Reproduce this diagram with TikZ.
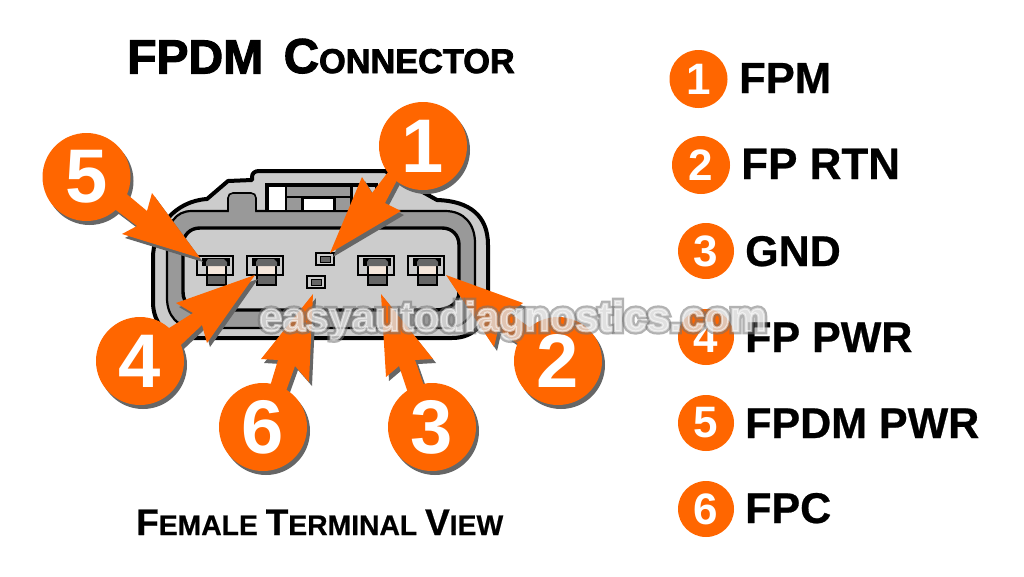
\documentclass[tikz,border=0pt]{standalone}
\usepackage{fontspec}
\setmainfont{Liberation Sans}[BoldFont={Liberation Sans Bold}]
\newfontfamily\heavy[FakeBold=2.2]{Liberation Sans Bold}
\newfontfamily\semi[FakeBold=0.6]{Liberation Sans Bold}
\newfontfamily\plainb{Liberation Sans Bold}
\definecolor{org}{HTML}{FF6600}
\definecolor{shad}{HTML}{666666}
\definecolor{lgray}{HTML}{CCCCCC}
\definecolor{mgray}{HTML}{999999}
\definecolor{peach}{HTML}{F5E6DA}
\newcommand{\fsz}[1]{\fontsize{#1}{#1}\selectfont}
\newcommand{\terminal}[2]{%
  \begin{scope}[shift={(#1,#2)}]
    \filldraw[fill=shad,draw=black,line width=1.6pt] (10,19) rectangle (29,29);
    \fill[peach] (10,10) rectangle (29,19);
    \draw[black,line width=1.6pt] (10,10) -- (10,19) (29,10) -- (29,19);
    \fill[black] (5,2) rectangle (33,10);
    \fill[shad] (9,6) -- (11,3) -- (27,3) -- (30,6) -- (30,10) -- (9,10) -- cycle;
    \draw[black,line width=1.6pt] (0,0) rectangle (36,19);
  \end{scope}}
\newcommand{\pinhole}[2]{%
  \begin{scope}[shift={(#1,#2)}]
    \filldraw[fill=lgray,draw=black,line width=1.8pt] (0,0) rectangle (18,12);
    \filldraw[fill=shad,draw=black,line width=.8pt] (4,3) rectangle (14,9);
  \end{scope}}
\newcommand{\callout}[5]{% name, cx, cy, digit, polygon
  \fill[shad,shift={(3,4)}] (#2,#3) circle (44) #5;
  \fill[org] (#2,#3) circle (44);
  \fill[org] #5;
  \node[bigdigit] (#1) at (#2,#3) {#4};}
\tikzset{
  bigdigit/.style={text=white,inner sep=0pt,font=\plainb\fsz{76}},
  legendnum/.style={circle,fill=org,text=white,inner sep=0pt,minimum size=56pt,font=\plainb\fsz{44}},
  legendtxt/.style={anchor=base west,inner sep=0pt,text=black,font=\semi\fsz{43}},
  caption/.style={anchor=base west,inner sep=0pt,text=black},
}
\begin{document}
\begin{tikzpicture}[x=1pt,y=-1pt]
\useasboundingbox (0,0) rectangle (1024,576);
\fill[white] (0,0) rectangle (1024,576);
% title
\node[caption,font=\heavy\fsz{48}] (titleA) at (127,73.5) {FPDM};
\node[caption,font=\heavy] (titleB) at (283.5,73) {\fsz{49}C\fsz{34.3}ONNECTOR};
\node[caption,font=\semi] (caption) at (136,535) {\fsz{37}F\fsz{28.3}EMALE \fsz{37}T\fsz{28.3}ERMINAL \fsz{37}V\fsz{28.3}IEW};
% housing
\filldraw[fill=lgray,draw=black,line width=4pt,line join=round]
  (252,180) -- (252,177) .. controls (252,173) and (255,171) .. (259,171) -- (385,171) -- (437,200)
  .. controls (470,201) and (488,216) .. (488,245) -- (488,298)
  .. controls (488,322) and (475,338) .. (452,338) -- (190,338)
  .. controls (168,338) and (153,325) .. (153,302) -- (153,258)
  .. controls (153,228) and (175,201) .. (207,199) -- (228,181) -- cycle;
\filldraw[fill=mgray,draw=black,line width=2.2pt,line join=round]
  (192,211) -- (445,211) .. controls (464,211) and (475,224) .. (475,243) -- (475,298)
  .. controls (475,316) and (464,328) .. (445,328) -- (195,328)
  .. controls (178,328) and (167,316) .. (167,298) -- (167,245)
  .. controls (167,224) and (175,211) .. (192,211) -- cycle;
\filldraw[fill=lgray,draw=black,line width=3.4pt,line join=round]
  (200,228) -- (442,228) .. controls (452,228) and (459,235) .. (459,245) -- (459,292)
  .. controls (459,304) and (448,310) .. (435,310) -- (205,310)
  .. controls (192,310) and (183,304) .. (183,292) -- (183,245)
  .. controls (183,235) and (190,228) .. (200,228) -- cycle;
% latch tab and window
\filldraw[fill=mgray,draw=black,line width=1.6pt] (228,211) -- (228,198) .. controls (228,195) and (230,193) .. (233,193)
  -- (251,193) .. controls (254,193) and (256,195) .. (256,198) -- (256,211);
\fill[mgray] (229,205) rectangle (255,213);
\fill[black] (265,183) rectangle (378,212);
\fill[white] (269,187) rectangle (285,210);
\fill[mgray] (287,187) rectangle (350,196);
\fill[mgray] (287,198) rectangle (301,210);
\fill[white] (304,199) rectangle (333,210);
\fill[mgray] (336,198) rectangle (350,210);
\fill[lgray] (353,187) rectangle (375,210);
% terminals
\terminal{197}{256}
\terminal{247}{256}
\terminal{358}{256}
\terminal{408}{256}
\pinhole{316}{253}
\pinhole{307}{276}
% callouts
\callout{one}{423}{146}{1}{(405,165) -- (385,203) -- (401,211) -- (330,253) -- (362,177) -- (372,193) -- (405,150) -- cycle}
\callout{five}{86.5}{177}{5}{(110,180) -- (147,211) -- (152,193) -- (200,258) -- (122,234) -- (137,226) -- (100,198) -- cycle}
\callout{four}{140}{361}{4}{(150,340) -- (193,313) -- (176,303) -- (255,275) -- (207,343) -- (202,325) -- (165,360) -- cycle}
\callout{six}{263}{427}{6}{(265,403) -- (278,360) -- (261,359) -- (313,294) -- (309,382) -- (295,366) -- (281,405) -- cycle}
\callout{three}{432}{427}{3}{(412,405) -- (399,366) -- (386,377) -- (381,294) -- (433,359) -- (415,360) -- (430,403) -- cycle}
\callout{two}{558}{361}{2}{(540,335) -- (510,313) -- (523,303) -- (446,275) -- (494,347) -- (498,330) -- (530,352) -- cycle}
% legend
\node[legendnum,minimum size=58pt] (la) at (698.5,79) {1};
\node[legendnum,minimum size=58pt] (lb) at (701,165) {2};
\node[legendnum] (lc) at (706,251) {3};
\node[legendnum] (ld) at (706,337) {4};
\node[legendnum] (le) at (706,423) {5};
\node[legendnum] (lf) at (706,509) {6};
\node[legendtxt,font=\semi\fsz{43.5}] (ta) at (739,93) {FPM};
\node[legendtxt,font=\semi\fsz{44}] (tb) at (741,179) {FP RTN};
\node[legendtxt] (tc) at (745,266) {GND};
\node[legendtxt] (td) at (745,352) {FP PWR};
\node[legendtxt] (te) at (745,438) {FPDM PWR};
\node[legendtxt] (tf) at (745,523) {FPC};
% watermark
\node[anchor=base,inner sep=0pt,text=white,fill opacity=.6,draw opacity=.55,font=\plainb\fsz{41.5}] (wmk) at (513,331)
  {\rlap{\special{pdf:code 1 Tr 6.5 w 0.45 0.45 0.45 RG}easyautodiagnostics.com}\special{pdf:code 2 Tr 2 w 1 1 1 RG}easyautodiagnostics.com\special{pdf:code 0 Tr 1 w}};
\end{tikzpicture}
\end{document}
